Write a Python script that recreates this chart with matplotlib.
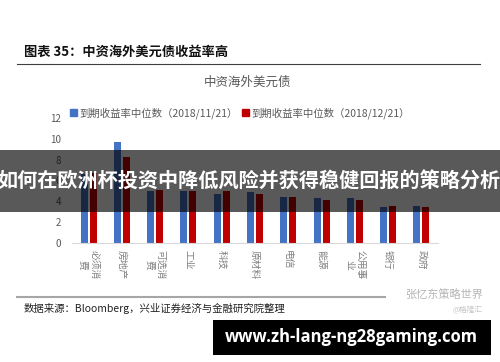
import matplotlib
matplotlib.use('Agg')
import matplotlib.pyplot as plt
from matplotlib.lines import Line2D
from matplotlib.patches import Rectangle, Patch
import numpy as np

plt.rcParams['font.family'] = ['Noto Sans CJK SC', 'DejaVu Sans']

# data
categories = ['必须消\n费', '房地产', '可选消\n费', '工业', '科技', '原材料',
              '电信', '能源', '公用事\n业', '银行', '政府']
yield_1121 = [6.6, 9.7, 5.0, 5.0, 4.7, 4.9, 4.45, 4.35, 4.3, 3.5, 3.6]
yield_1221 = [6.7, 8.3, 5.1, 5.0, 5.0, 4.75, 4.4, 4.15, 4.1, 3.6, 3.5]
label_1121 = '到期收益率中位数（2018/11/21）'
label_1221 = '到期收益率中位数（2018/12/21）'

W, H = 500, 362
fig = plt.figure(figsize=(5, 3.62), dpi=100)

def fx(px):
    return px / W

def fy(py):
    return 1 - py / H

blue = '#4472C4'
red = '#C00000'

ax = fig.add_axes([fx(72), fy(243), fx(438) - fx(72), fy(118) - fy(243)])
x = np.arange(len(categories))
w = 0.21
ax.bar(x - 0.135, yield_1121, w, color=blue)
ax.bar(x + 0.135, yield_1221, w, color=red)
ax.set_xlim(-0.5, len(categories) - 0.5)
ax.set_ylim(0, 12)
ax.set_yticks(range(0, 13, 2))
ax.tick_params(axis='y', length=0, labelsize=7, labelcolor='#595959', pad=8)
ax.set_xticks(x)
ax.set_xticklabels(categories, rotation=-90, fontsize=7, color='#7f7f7f',
                   va='top', ha='center')
ax.tick_params(axis='x', length=0, pad=5)
for s in ['top', 'right', 'left']:
    ax.spines[s].set_visible(False)
ax.spines['bottom'].set_color('#d9d9d9')

# legend
handles = [Patch(color=blue), Patch(color=red)]
fig.legend(handles, [label_1121, label_1221], ncol=2, frameon=False,
           loc='center left', bbox_to_anchor=(fx(70), fy(113)),
           fontsize=7.5, labelcolor='#595959', handlelength=0.7,
           handleheight=0.7, handletextpad=0.2, columnspacing=0.4,
           borderaxespad=0, borderpad=0)

# titles and frame lines
fig.text(fx(24), fy(52), '图表 35：中资海外美元债收益率高', fontsize=9.5,
         weight='bold', va='center', color='#111111')
fig.add_artist(Line2D([fx(17), fx(480)], [fy(64), fy(64)], color='#404040', lw=0.8))
fig.text(fx(248), fy(82), '中资海外美元债', fontsize=9, ha='center', va='center',
         color='#595959')
fig.add_artist(Line2D([fx(17), fx(385)], [fy(296.5), fy(296.5)], color='#a6a6a6', lw=1.5))
fig.text(fx(24), fy(308), '数据来源：Bloomberg，兴业证券经济与金融研究院整理',
         fontsize=7.5, va='center', color='#222222')
fig.text(fx(483), fy(294), '张忆东策略世界', fontsize=8, ha='right', va='center',
         color='#b5b5b5')
fig.text(fx(483), fy(310), '@格隆汇', fontsize=5.5, ha='right', va='center',
         color='#c5c5c5')

# overlay band
fig.add_artist(Rectangle((0, fy(212)), 1, (212 - 150) / H, transform=fig.transFigure,
                         facecolor='black', alpha=0.65, edgecolor='none', zorder=5))
fig.text(fx(249), fy(181), '如何在欧洲杯投资中降低风险并获得稳健回报的策略分析',
         fontsize=14.5, weight='bold', color='white', ha='center', va='center',
         zorder=6)

# black url box
fig.add_artist(Rectangle((fx(213), fy(355)), (491 - 213) / W, 35 / H,
                         transform=fig.transFigure, facecolor='black',
                         edgecolor='none', zorder=5))
fig.text(fx(351), fy(337.5), 'www.zh-lang-ng28gaming.com', fontsize=12,
         weight='bold', color='white', ha='center', va='center',
         family=['Open Sans', 'DejaVu Sans'], zorder=6)

fig.savefig('out.png', dpi=100)
